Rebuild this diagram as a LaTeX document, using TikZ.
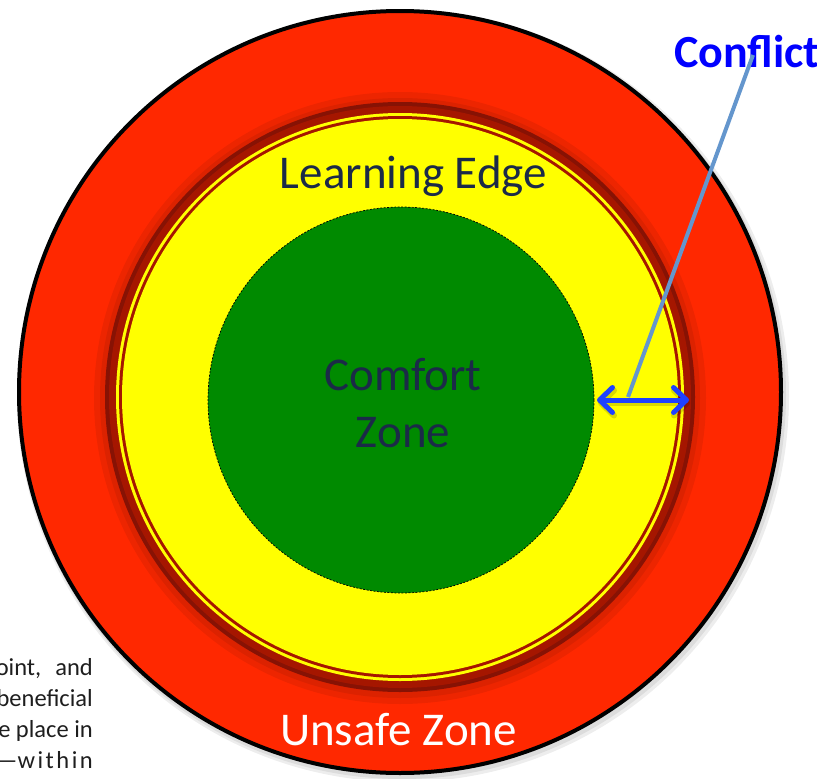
\documentclass[tikz,border=0pt]{standalone}
\usepackage{fontspec}
\setmainfont{Carlito}
\usetikzlibrary{arrows.meta}
\definecolor{ringred}{RGB}{255,40,0}
\definecolor{bandred}{RGB}{165,22,0}
\definecolor{banddark}{RGB}{135,18,4}
\definecolor{zoneyellow}{RGB}{255,255,0}
\definecolor{zonegreen}{RGB}{0,138,0}
\definecolor{navytext}{RGB}{27,42,72}
\definecolor{conflictblue}{RGB}{0,0,255}
\definecolor{pointerblue}{RGB}{100,150,205}
\definecolor{arrowblue}{RGB}{30,65,255}
\definecolor{bodytext}{RGB}{30,30,30}
\tikzset{
  zonelabel/.style={font=\fontsize{47}{56}\selectfont, inner sep=0pt, anchor=base},
  bodyline/.style={font=\fontsize{24.5}{30}\selectfont, text=bodytext, inner sep=0pt, anchor=base east},
  pointer/.style={draw=pointerblue, line width=4pt},
  spanarrow/.style={draw=arrowblue, line width=5pt, line cap=round,
    {Straight Barb[length=13pt,width=25pt,round]}-{Straight Barb[length=13pt,width=25pt,round]}},
  softshadow/.style={fill=black, opacity=0.07}
}
\begin{document}
\begin{tikzpicture}[x=1pt,y=-1pt]
\useasboundingbox (0,0) rectangle (817,779);
% outer shadow
\fill[softshadow] (403,396) circle (386pt);
\fill[softshadow] (402,395) circle (384pt);
% unsafe zone
\filldraw[fill=ringred, draw=black, line width=4pt] (400,392) circle (381pt);
% darkening towards the learning edge band
\fill[softshadow] (400,398) circle (306pt);
\fill[softshadow] (400,398) circle (300pt);
% learning edge band
\fill[banddark] (400,397) circle (295pt);
\fill[bandred] (400,397) circle (291pt);
\fill[zoneyellow] (400,397) circle (284pt);
\fill[bandred] (400,397) circle (281pt);
\fill[zoneyellow] (400,397) circle (278pt);
% comfort zone
\filldraw[fill=zonegreen, draw=black, line width=0.7pt, dash pattern=on 2pt off 1.5pt] (401,400) circle (193pt);
% labels
\node[zonelabel, text=navytext] (learning) at (413.5,188) {Learning Edge};
\node[zonelabel, text=navytext] (comfort) at (403,390) {Comfort};
\node[zonelabel, text=navytext] (zone) at (403,447) {Zone};
\node[zonelabel, text=white] (unsafe) at (398.5,745) {Unsafe Zone};
\node[font=\bfseries\fontsize{46}{55}\selectfont, text=conflictblue, inner sep=0pt, anchor=base west] (conflict) at (674,67) {Conflict};
% body text fragments
\node[bodyline] (lineA) at (93,675) {oint,\hspace{14pt}and};
\node[bodyline] (lineB) at (93,706) {beneficial};
\node[bodyline] (lineC) at (93,737) {e place in};
\node[bodyline] (lineD) at (93,768) {—w\kern2.5pt i\kern2.5pt t\kern2.5pt h\kern2.5pt i\kern2.5pt n};
% span arrow
\coordinate (arrowleft) at (597,400);
\coordinate (arrowright) at (689,400);
\draw[spanarrow, draw=black, opacity=0.15, line width=6pt] ([shift={(1,3)}]arrowleft) -- ([shift={(1,3)}]arrowright);
% pointer from label
\coordinate (pointertop) at (753,55);
\coordinate (pointerfoot) at (628,397);
\draw[pointer] (pointertop) -- (pointerfoot);
\draw[spanarrow] (arrowleft) -- (arrowright);
\end{tikzpicture}
\end{document}
